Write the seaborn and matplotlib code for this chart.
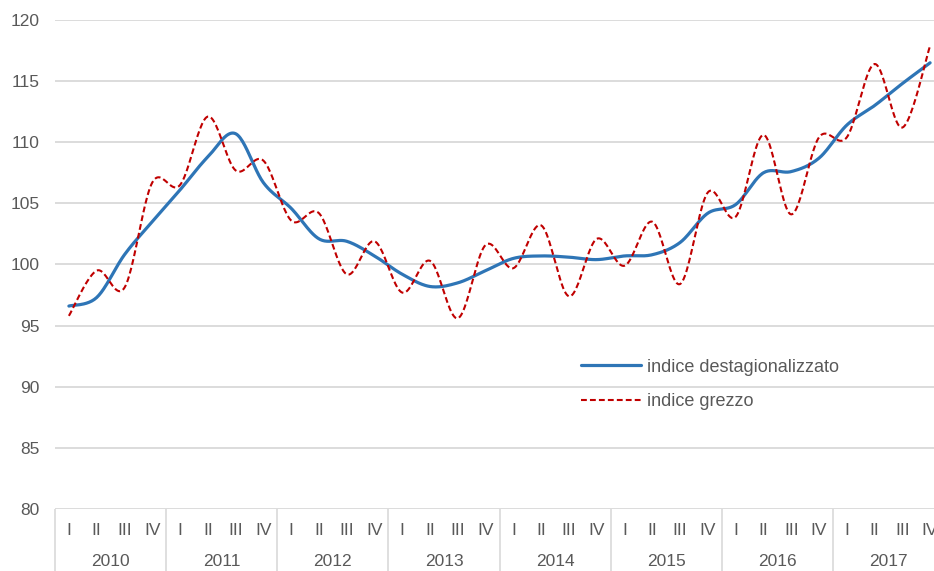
import numpy as np
import pandas as pd
import seaborn as sns
import matplotlib.pyplot as plt

# dati trimestrali 2010-2017
anni = ['2010', '2011', '2012', '2013', '2014', '2015', '2016', '2017']
trimestri = ['I', 'II', 'III', 'IV']

destagionalizzato = [96.6, 97.3, 100.8, 103.5,
                     106.1, 108.8, 110.7, 106.7,
                     104.6, 102.1, 101.9, 100.7,
                     99.2, 98.2, 98.5, 99.5,
                     100.5, 100.7, 100.6, 100.4,
                     100.7, 100.8, 101.8, 104.2,
                     104.9, 107.5, 107.6, 108.7,
                     111.4, 113.0, 114.8, 116.5]

grezzo = [95.8, 99.5, 98.1, 106.7,
          106.5, 112.1, 107.7, 108.5,
          103.6, 104.2, 99.2, 101.9,
          97.7, 100.3, 95.6, 101.6,
          99.7, 103.2, 97.4, 102.1,
          99.9, 103.5, 98.4, 105.9,
          103.9, 110.6, 104.1, 110.4,
          110.4, 116.4, 111.2, 117.9]


def curva_smussata(valori, n=24):
    # linea smussata stile Excel (Bezier Catmull-Rom)
    y = np.asarray(valori, dtype=float)
    x = np.arange(len(y), dtype=float)
    xs, ys = [], []
    for i in range(len(y) - 1):
        i0, i3 = max(i - 1, 0), min(i + 2, len(y) - 1)
        p0 = np.array([x[i], y[i]])
        p3 = np.array([x[i + 1], y[i + 1]])
        c1 = p0 + (np.array([x[i + 1], y[i + 1]]) - np.array([x[i0], y[i0]])) / 6
        c2 = p3 - (np.array([x[i3], y[i3]]) - np.array([x[i], y[i]])) / 6
        t = np.linspace(0, 1, n, endpoint=(i == len(y) - 2))[:, None]
        pts = ((1 - t) ** 3) * p0 + 3 * ((1 - t) ** 2) * t * c1 + 3 * (1 - t) * t ** 2 * c2 + t ** 3 * p3
        xs.extend(pts[:, 0])
        ys.extend(pts[:, 1])
    return pd.DataFrame({'x': xs, 'y': ys})


sns.set_theme(style='white')
plt.rcParams['font.family'] = ['Liberation Sans', 'DejaVu Sans']

fig = plt.figure(figsize=(9.34, 5.71), dpi=100)
ax = fig.add_axes([55 / 934, 62 / 571, 889 / 934, 489 / 571])

grigio = '#595959'

sns.lineplot(data=curva_smussata(destagionalizzato), x='x', y='y', ax=ax,
             color='#2E75B6', linewidth=2.3, label='indice destagionalizzato',
             sort=False)
sns.lineplot(data=curva_smussata(grezzo), x='x', y='y', ax=ax,
             color='#C00000', linewidth=1.5, linestyle=(0, (2.8, 1.5)),
             label='indice grezzo', sort=False)

ax.set_xlim(-0.5, len(destagionalizzato) - 0.5)
ax.set_ylim(80, 120)
ax.set_yticks(range(80, 121, 5))
ax.yaxis.grid(True, color='#d9d9d9', linewidth=1.3)
ax.set_axisbelow(True)
for s in ax.spines.values():
    s.set_visible(False)

ax.tick_params(axis='y', length=0, pad=11, labelsize=12.5, labelcolor=grigio)

ax.set_xticks(np.arange(len(destagionalizzato)))
ax.set_xticklabels(trimestri * len(anni))
ax.set_xticks(np.arange(-0.5, len(destagionalizzato), 4), minor=True)
ax.tick_params(axis='x', which='major', length=0, pad=10, labelsize=12.5,
               labelcolor=grigio)
ax.tick_params(axis='x', which='minor', bottom=True, length=46, width=1.2,
               color='#d9d9d9', direction='out')

for k, anno in enumerate(anni):
    ax.text(4 * k + 1.5, -53 / 489, anno, transform=ax.get_xaxis_transform(),
            ha='center', va='center', fontsize=12.5, color=grigio)

ax.set_xlabel('')
ax.set_ylabel('')

ax.legend(loc='center left', bbox_to_anchor=(0.582, 0.255), frameon=False,
          fontsize=13, labelspacing=0.95, handlelength=3.3, handletextpad=0.33,
          borderpad=0, labelcolor=grigio)

fig.savefig('out.png', dpi=100)
